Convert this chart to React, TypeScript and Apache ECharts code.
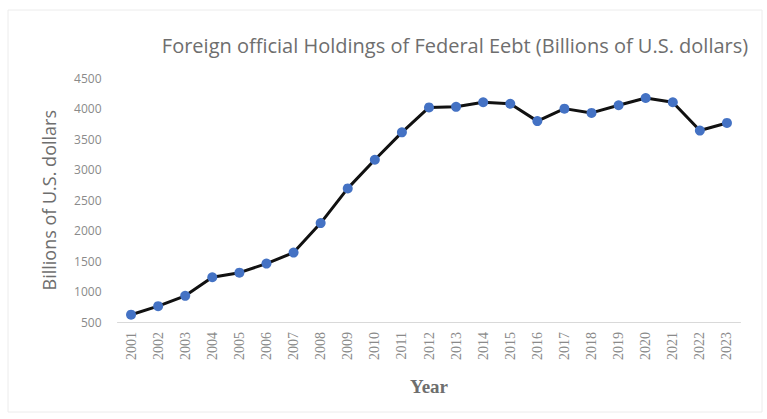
import React, { useEffect, useRef } from "react";
import * as echarts from "echarts";

const years = ["2001","2002","2003","2004","2005","2006","2007","2008","2009","2010","2011","2012","2013","2014","2015","2016","2017","2018","2019","2020","2021","2022","2023"];
const holdings = [620, 760, 930, 1235, 1310, 1460, 1640, 2125, 2695, 3165, 3615, 4025, 4035, 4110, 4085, 3800, 4005, 3935, 4060, 4180, 4110, 3645, 3770];
const yTicks = { min: 500, max: 4500, interval: 500 };

export default function App() {
  const ref = useRef<HTMLDivElement>(null);
  useEffect(() => {
    if (!ref.current) return;
    const chart = echarts.init(ref.current, null, { renderer: "svg" });
    chart.setOption({
      animation: false,
      backgroundColor: "#ffffff",
      graphic: [
        { type: "rect", shape: { x: 8, y: 10, width: 754, height: 402 }, style: { fill: "none", stroke: "#ececec", lineWidth: 1 }, silent: true },
      ],
      title: {
        text: "Foreign official Holdings of Federal Eebt (Billions of U.S. dollars)",
        left: 450,
        top: 30,
        textAlign: "center",
        textStyle: { fontFamily: "Open Sans", fontSize: 20, fontWeight: "normal", color: "#6e6e6e" },
      },
      grid: { left: 117.5, right: 26.5, top: 78.5, bottom: 97 },
      xAxis: {
        type: "category",
        data: years,
        boundaryGap: true,
        axisLine: { show: true, lineStyle: { color: "#d9d9d9", width: 1 } },
        axisTick: { show: false },
        axisLabel: { rotate: 90, interval: 0, fontFamily: "Liberation Serif", fontSize: 14, color: "#8a8a8a", margin: 10 },
        name: "Year",
        nameLocation: "middle",
        nameGap: 55,
        nameTextStyle: { fontFamily: "Liberation Serif", fontSize: 19, fontWeight: "bold", color: "#6e6e6e" },
      },
      yAxis: {
        type: "value",
        min: yTicks.min,
        max: yTicks.max,
        interval: yTicks.interval,
        splitLine: { show: false },
        axisLine: { show: false },
        axisTick: { show: false },
        axisLabel: { fontFamily: "Open Sans", fontSize: 12, color: "#8a8a8a", margin: 16, formatter: (v: number) => String(v) },
        name: "Billions of U.S. dollars",
        nameLocation: "middle",
        nameGap: 60,
        nameTextStyle: { fontFamily: "Open Sans", fontSize: 18, color: "#6e6e6e" },
      },
      series: [
        {
          type: "line",
          data: holdings,
          symbol: "circle",
          symbolSize: 10,
          lineStyle: { color: "#111111", width: 3 },
          itemStyle: { color: "#4472C4" },
          z: 3,
        },
      ],
    });
    return () => chart.dispose();
  }, []);
  return <div ref={ref} style={{ width: 767, height: 419, position: "absolute", left: 0, top: 0 }} />;
}
